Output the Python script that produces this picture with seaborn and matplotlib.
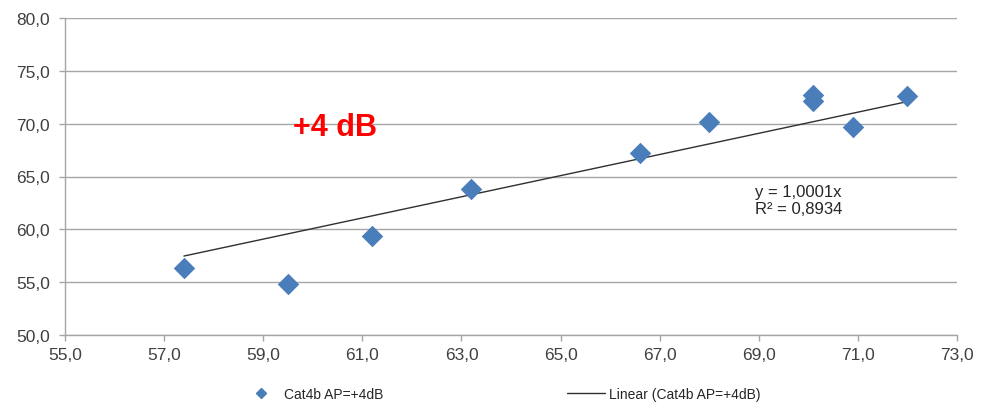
import matplotlib
matplotlib.use("Agg")
import matplotlib.pyplot as plt
from matplotlib.ticker import FuncFormatter, MultipleLocator
from matplotlib.lines import Line2D
import numpy as np
import pandas as pd
import seaborn as sns

x_vals = [57.4, 59.5, 61.2, 63.2, 66.6, 68.0, 70.1, 70.1, 70.9, 72.0]
y_vals = [56.3, 54.8, 59.4, 63.8, 67.2, 70.2, 72.7, 72.1, 69.7, 72.6]
x_ticks = [55, 57, 59, 61, 63, 65, 67, 69, 71, 73]
series_name = "Cat4b AP=+4dB"
trend_name = "Linear (Cat4b AP=+4dB)"
eq_text = "y = 1,0001x\nR² = 0,8934"
note_text = "+4 dB"

blue = "#4A7EBB"
grid_gray = "#A6A6A6"
text_col = "#404040"

sns.set_theme(style="white")
plt.rcParams['font.family'] = ['Liberation Sans', 'DejaVu Sans']

df = pd.DataFrame({"x": x_vals, "y": y_vals})

fig = plt.figure(figsize=(9.89, 4.06), dpi=100)
ax = fig.add_axes([65 / 989, 1 - 336 / 406, (957 - 65) / 989, (336 - 19) / 406])

ax.set_xlim(55, 73)
ax.set_ylim(50, 80)
ax.set_xticks(x_ticks)
ax.yaxis.set_major_locator(MultipleLocator(5))
ax.yaxis.grid(True, color=grid_gray, linewidth=1)
ax.set_axisbelow(True)

# trend line through origin (least squares)
xs = np.array(x_vals)
ys = np.array(y_vals)
slope = (xs * ys).sum() / (xs * xs).sum()
tx = np.array([xs.min(), xs.max()])
ax.plot(tx, slope * tx, color="#303030", linewidth=1, zorder=2)

sns.scatterplot(data=df, x="x", y="y", marker="D", s=120, color=blue,
                edgecolor=blue, linewidth=0, ax=ax, zorder=3, legend=False)

fmt = FuncFormatter(lambda v, p: f"{v:.1f}".replace(".", ","))
ax.xaxis.set_major_formatter(fmt)
ax.yaxis.set_major_formatter(fmt)
ax.tick_params(axis="both", labelsize=12.5, labelcolor=text_col, length=4,
               width=1, direction="out", bottom=True, left=True,
               color=grid_gray)
ax.tick_params(axis="x", pad=5)
ax.tick_params(axis="y", pad=7)
ax.set_xlabel("")
ax.set_ylabel("")
for side in ["top", "right"]:
    ax.spines[side].set_visible(False)
for side in ["left", "bottom"]:
    ax.spines[side].set_color(grid_gray)
    ax.spines[side].set_linewidth(1)

ax.text(60.45, 69.7, note_text, color="red", fontsize=22, fontweight="bold",
        ha="center", va="center")
ax.text(68.92, 62.8, eq_text, color="#262626", fontsize=12,
        ha="left", va="center", linespacing=1.2)

handles = [
    Line2D([], [], marker="D", color=blue, linestyle="none", markersize=5),
    Line2D([], [], color="#303030", linewidth=1),
]
fig.legend(handles, [series_name, trend_name], loc="center",
           bbox_to_anchor=(0.507, 1 - 395 / 406), ncol=2, frameon=False,
           fontsize=10, columnspacing=13.2, handlelength=2.7,
           handletextpad=0.35, labelcolor="#262626")

fig.savefig("out.png", dpi=100)
